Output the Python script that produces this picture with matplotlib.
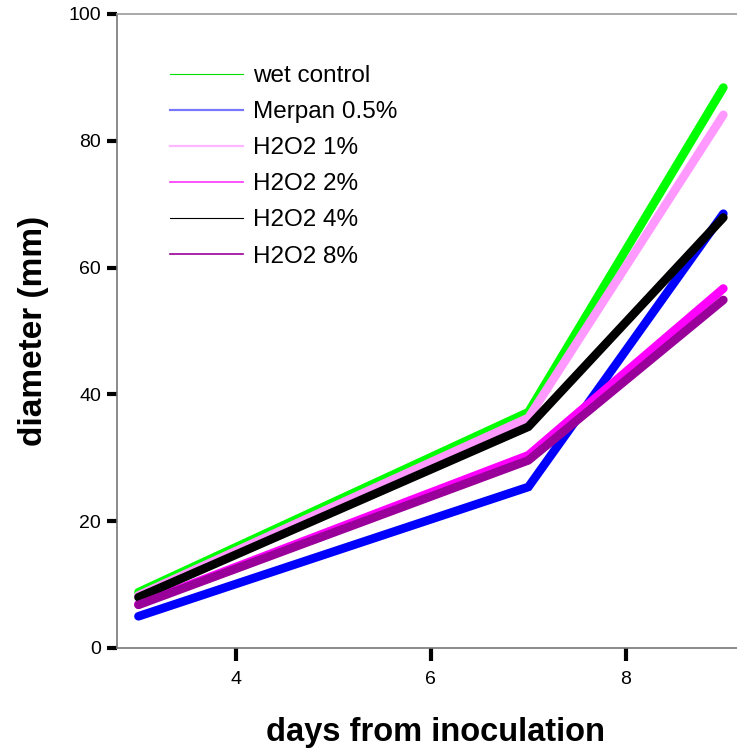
import matplotlib
matplotlib.use("Agg")
import matplotlib.pyplot as plt
from matplotlib.lines import Line2D

days = [3, 7, 9]
series_names = ["wet control", "Merpan 0.5%", "H2O2 1%", "H2O2 2%", "H2O2 4%", "H2O2 8%"]
wet_control = [8.8, 37.2, 88.4]
merpan_05 = [5.0, 25.4, 68.5]
h2o2_1 = [8.3, 36.3, 84.1]
h2o2_2 = [6.9, 30.4, 56.7]
h2o2_4 = [8.0, 34.9, 67.9]
h2o2_8 = [6.8, 29.6, 54.9]
x_ticks = [4, 6, 8]
y_ticks = [0, 20, 40, 60, 80, 100]

series = [wet_control, merpan_05, h2o2_1, h2o2_2, h2o2_4, h2o2_8]
colors = ["#00ff00", "#0000ff", "#ff99ff", "#ff00ff", "#000000", "#990099"]
legend_colors = ["#00dd00", "#7777ff", "#ffb8ff", "#ff33ff", "#000000", "#990099"]
legend_lw = [0.8, 1.6, 1.6, 1.2, 0.8, 1.2]

plt.rcParams['font.family'] = ['Liberation Sans', 'DejaVu Sans']

fig = plt.figure(figsize=(7.37, 7.51), dpi=100)
W, H = 737, 751
ax = fig.add_axes([117 / W, 1 - 648 / H, (737 - 117) / W, (648 - 14) / H])

for vals, c in zip(series, colors):
    ax.plot(days, vals, color=c, lw=6.2, solid_capstyle='round', solid_joinstyle='miter')

ax.set_xlim(2.78, 9.14)
ax.set_ylim(0, 100)
ax.set_xticks(x_ticks)
ax.set_yticks(y_ticks)

for s in ['left', 'bottom', 'top']:
    ax.spines[s].set_color('#777777')
    ax.spines[s].set_linewidth(1.2)
ax.spines['top'].set_color('#999999')
ax.spines['right'].set_visible(False)

ax.tick_params(axis='y', direction='out', length=7.5, width=3, color='black',
               labelsize=14, pad=4)
ax.tick_params(axis='x', direction='out', length=9.5, width=3, color='black',
               labelsize=14, pad=7)

ax.set_xlabel("days from inoculation", fontsize=23.5, fontweight='bold', labelpad=21)
ax.xaxis.label.set_x((435 - 117) / 620)
ax.set_ylabel("diameter (mm)", fontsize=24, fontweight='bold', labelpad=14)

handles = [Line2D([0], [0], color=c, lw=lw) for c, lw in zip(legend_colors, legend_lw)]
leg = ax.legend(handles, series_names, loc='upper left',
                bbox_to_anchor=(170 / W, 1 - 65 / H), bbox_transform=fig.transFigure,
                frameon=False, fontsize=17.5, handlelength=3.0, handletextpad=0.4,
                labelspacing=0.58, borderpad=0, borderaxespad=0)

fig.savefig("out.png", dpi=100)
